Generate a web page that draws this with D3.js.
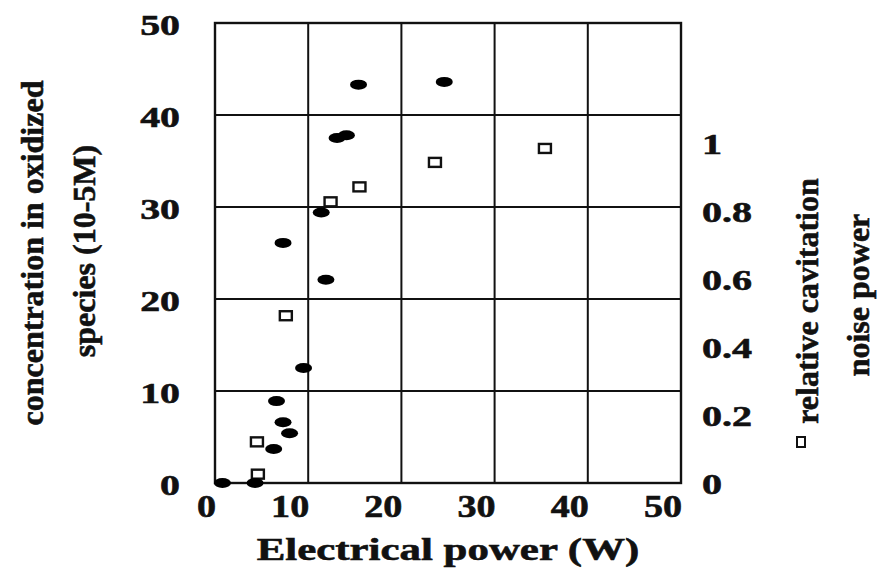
<!DOCTYPE html>
<html>
<head>
<meta charset="utf-8">
<script src="https://cdn.jsdelivr.net/npm/d3@7"></script>
<style>
  html, body { margin: 0; padding: 0; background: #fff; }
  svg { display: block; }
  text { font-family: "Liberation Serif", "Times New Roman", serif; font-weight: bold; fill: #111; stroke: #111; stroke-width: 0.6; }
</style>
</head>
<body>
<svg id="chart" width="877" height="568"></svg>
<script>
// Oxidized species concentration (filled ellipses, left axis)
const oxPower = [0.8, 4.3, 6.3, 6.6, 7.3, 8.0, 9.5, 7.3, 11.9, 11.4, 13.1, 14.1, 15.4, 24.6];
const oxConc  = [0.0, 0.0, 3.7, 8.9, 6.6, 5.4, 12.5, 26.1, 22.1, 29.4, 37.5, 37.8, 43.3, 43.6];

// Relative cavitation noise power (open squares, right axis)
const noisePower = [4.6, 4.5, 7.6, 12.4, 15.5, 23.6, 35.4];
const noiseRel   = [0.026, 0.121, 0.492, 0.827, 0.871, 0.943, 0.984];

// Axis ticks and titles
const xTicks = [0, 10, 20, 30, 40, 50];
const yTicks = [0, 10, 20, 30, 40, 50];
const yRightTicks = [0, 0.2, 0.4, 0.6, 0.8, 1];
const yRightLabels = ["0", "0.2", "0.4", "0.6", "0.8", "1"];
const xTitle = "Electrical power (W)";
const yTitle = ["concentration in oxidized", "species (10-5M)"];
const yRightTitle = ["relative cavitation", "noise power"];

const svg = d3.select("#chart");
const plot = { left: 215, right: 681, top: 23, bottom: 483 };

const x = d3.scaleLinear().domain([0, 50]).range([plot.left, plot.right]);
const y = d3.scaleLinear().domain([0, 50]).range([plot.bottom, plot.top]);
const yR = d3.scaleLinear().domain([0, 1.353]).range([plot.bottom, plot.top]);

// Widen glyphs horizontally to the printed letterforms
function stretch(sel, factor) {
  sel.each(function () {
    const w = this.getComputedTextLength();
    d3.select(this).attr("textLength", w * factor).attr("lengthAdjust", "spacingAndGlyphs");
  });
}

// Grid lines
const g = svg.append("g").attr("stroke", "#111").attr("stroke-width", 2);
g.selectAll("line.v").data(xTicks.slice(1, -1)).join("line")
  .attr("x1", d => x(d)).attr("x2", d => x(d))
  .attr("y1", plot.top).attr("y2", plot.bottom);
g.selectAll("line.h").data(yTicks.slice(1, -1)).join("line")
  .attr("y1", d => y(d)).attr("y2", d => y(d))
  .attr("x1", plot.left).attr("x2", plot.right);
g.append("rect")
  .attr("x", plot.left).attr("y", plot.top)
  .attr("width", plot.right - plot.left).attr("height", plot.bottom - plot.top)
  .attr("fill", "none").attr("stroke-width", 2.4);

// Bottom tick labels, right-aligned to grid lines
svg.append("g").selectAll("text").data(xTicks).join("text")
  .attr("x", d => x(d) + 1).attr("y", 517)
  .attr("text-anchor", "end").attr("font-size", 32)
  .text(d => d)
  .call(stretch, 1.19);

// Left tick labels
svg.append("g").selectAll("text").data(yTicks).join("text")
  .attr("x", 180).attr("y", d => y(d) + 11.5)
  .attr("text-anchor", "end").attr("font-size", 29.5)
  .text(d => d)
  .call(stretch, 1.35);

// Right tick labels
svg.append("g").selectAll("text").data(yRightTicks).join("text")
  .attr("x", 702).attr("y", d => yR(d) + 10.5)
  .attr("text-anchor", "start").attr("font-size", 29)
  .text((d, i) => yRightLabels[i])
  .call(stretch, 1.38);

// Axis titles
svg.append("text")
  .attr("x", 448).attr("y", 560)
  .attr("text-anchor", "middle").attr("font-size", 32)
  .text(xTitle)
  .call(stretch, 1.34);

const leftTitlePos = [[43, 253], [95, 251]];
yTitle.forEach((t, i) => {
  svg.append("text")
    .attr("transform", `translate(${leftTitlePos[i][0]},${leftTitlePos[i][1]}) rotate(-90)`)
    .attr("text-anchor", "middle").attr("font-size", 32)
    .text(t);
});

const rightTitlePos = [[818, 301], [869, 295]];
yRightTitle.forEach((t, i) => {
  svg.append("text")
    .attr("transform", `translate(${rightTitlePos[i][0]},${rightTitlePos[i][1]}) rotate(-90)`)
    .attr("text-anchor", "middle").attr("font-size", 32)
    .text(t);
});
// Legend square for the noise series
svg.append("rect")
  .attr("x", 797).attr("y", 437).attr("width", 8).attr("height", 10)
  .attr("fill", "#fff").attr("stroke", "#111").attr("stroke-width", 2);

// Noise power squares
svg.append("g").selectAll("rect").data(noisePower).join("rect")
  .attr("x", d => x(d) - 6).attr("y", (d, i) => yR(noiseRel[i]) - 4.5)
  .attr("width", 12).attr("height", 9)
  .attr("fill", "#fff").attr("stroke", "#111").attr("stroke-width", 2.4);

// Oxidized species ellipses
svg.append("g").selectAll("ellipse").data(oxPower).join("ellipse")
  .attr("cx", d => x(d)).attr("cy", (d, i) => y(oxConc[i]))
  .attr("rx", 8.5).attr("ry", 5)
  .attr("fill", "#000");
</script>
</body>
</html>
